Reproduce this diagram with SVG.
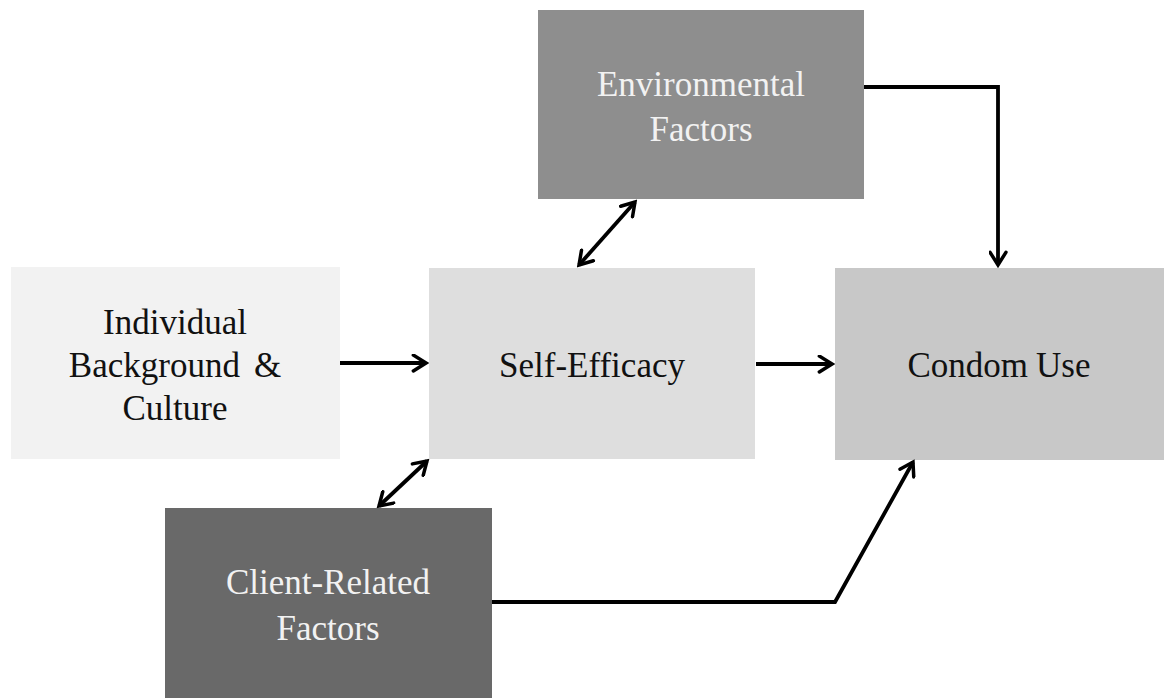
<svg xmlns="http://www.w3.org/2000/svg" width="1164" height="698" viewBox="0 0 1164 698">
<defs>
<style>
.lbl{font-family:'Liberation Serif','DejaVu Serif',serif;font-size:35px;text-anchor:middle}
.dark{fill:#111}
.light{fill:#f2f2f2}
.con{fill:none;stroke:#000;stroke-width:3.8;stroke-linejoin:miter}
</style>
<marker id="ah" viewBox="0 0 12 12" refX="10" refY="6" markerWidth="5" markerHeight="5" markerUnits="strokeWidth" orient="auto-start-reverse">
<path d="M2,1 L10,6 L2,11" fill="none" stroke="#000" stroke-width="2.2" stroke-linecap="round"/>
</marker>
</defs>
<rect width="1164" height="698" fill="#fff"/>
<g id="env">
<rect x="538" y="10" width="326" height="189" fill="#8e8e8e"/>
<text class="lbl light" x="701" y="96">Environmental</text>
<text class="lbl light" x="701" y="141">Factors</text>
</g>
<g id="indiv">
<rect x="11" y="267" width="329" height="192" fill="#f2f2f2"/>
<text class="lbl dark" x="175" y="334">Individual</text>
<text class="lbl dark" x="175" y="377"><tspan>Background</tspan><tspan dx="14">&amp;</tspan></text>
<text class="lbl dark" x="175" y="420">Culture</text>
</g>
<g id="self">
<rect x="429" y="268" width="326" height="191" fill="#dedede"/>
<text class="lbl dark" x="592" y="377">Self-Efficacy</text>
</g>
<g id="condom">
<rect x="835" y="268" width="329" height="192" fill="#c8c8c8"/>
<text class="lbl dark" x="999" y="377"><tspan>Condom</tspan><tspan dx="8">Use</tspan></text>
</g>
<g id="client">
<rect x="165" y="508" width="327" height="190" fill="#696969"/>
<text class="lbl light" x="328" y="594">Client-Related</text>
<text class="lbl light" x="328" y="640">Factors</text>
</g>
<g id="connectors">
<path class="con" d="M864,87 L998,87 L998,265" marker-end="url(#ah)"/>
<path class="con" d="M340,363 L426,363" marker-end="url(#ah)"/>
<path class="con" d="M756,364 L832,364" marker-end="url(#ah)"/>
<path class="con" d="M579,265 L635,202" marker-start="url(#ah)" marker-end="url(#ah)"/>
<path class="con" d="M379,506 L427,461" marker-start="url(#ah)" marker-end="url(#ah)"/>
<path class="con" d="M492,602 L835,602 L913,462" marker-end="url(#ah)"/>
</g>
</svg>
